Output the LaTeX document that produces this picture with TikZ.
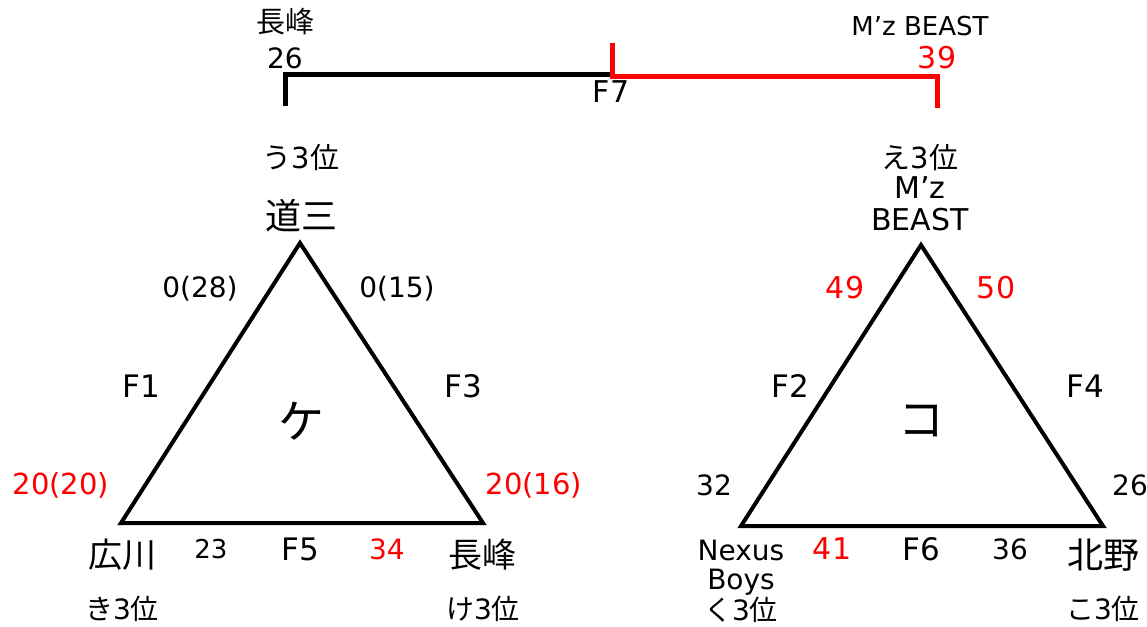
\documentclass[tikz,border=0pt]{standalone}
\usepackage{fontspec}
\setmainfont{DejaVu Sans}
\newfontfamily\jp{Noto Sans CJK JP}
\definecolor{myred}{RGB}{255,0,0}
\begin{document}
\begin{tikzpicture}[x=1pt,y=-1pt,
  fs/.style={inner sep=0pt,font=\fontsize{#1}{#1}\selectfont},
  rd/.style={text=myred},
  tri/.style={line width=4pt,line join=miter},
  brk/.style={line width=5pt}]
\useasboundingbox (0,0) rectangle (1147,626);
% bracket
\coordinate (b1) at (285,106);
\coordinate (b2) at (285,74);
\coordinate (b3) at (612,74);
\coordinate (r1) at (612,43);
\coordinate (r2) at (612,76);
\coordinate (r3) at (937,76);
\coordinate (r4) at (937,108);
\draw[brk] (b1) -- (b2) -- (b3);
\draw[brk,myred] (r1) -- (r2) -- (r3) -- (r4);
\node[fs=29] (tn) at (285,22) {\jp 長峰};
\node[fs=28] (t26) at (285,58) {26};
\node[fs=30] (f7) at (611,92) {F7};
\node[fs=26] (tm) at (920,26) {M’z BEAST};
\node[fs=30,rd] (t39) at (937,58) {39};
% left triangle
\coordinate (la) at (300,243);
\coordinate (ll) at (121,523);
\coordinate (lr) at (483,523);
\draw[tri] (la) -- (ll) -- (lr) -- cycle;
\node[fs=29] (u3) at (301,157) {{\jp う}3{\jp 位}};
\node[fs=36] (dosan) at (301,216) {\jp 道三};
\node[fs=28] (l028) at (200,289) {0(28)};
\node[fs=28] (l015) at (397,289) {0(15)};
\node[fs=31] (f1) at (141,386) {F1};
\node[fs=31] (f3) at (463,386) {F3};
\node[fs=46] (ke) at (301,421) {\jp ケ};
\node[fs=29,rd] (l2020) at (61,485) {20(20)};
\node[fs=29,rd] (l2016) at (534,485) {20(16)};
\node[fs=34] (hiro) at (122,555) {\jp 広川};
\node[fs=26] (l23) at (211,549) {23};
\node[fs=31] (f5) at (300,549) {F5};
\node[fs=28,rd] (l34) at (387,549) {34};
\node[fs=34] (naga) at (482,555) {\jp 長峰};
\node[fs=28] (ki3) at (122,609) {{\jp き}3{\jp 位}};
\node[fs=28] (ke3) at (483,609) {{\jp け}3{\jp 位}};
% right triangle
\coordinate (ra) at (921,245);
\coordinate (rl) at (741,526);
\coordinate (rr) at (1103,526);
\draw[tri] (ra) -- (rl) -- (rr) -- cycle;
\node[fs=29] (e3) at (920,157) {{\jp え}3{\jp 位}};
\node[fs=30] (mz) at (920,188) {M’z};
\node[fs=30] (beast) at (920,220) {BEAST};
\node[fs=30,rd] (r49) at (845,288) {49};
\node[fs=30,rd] (r50) at (996,288) {50};
\node[fs=31] (f2) at (790,386) {F2};
\node[fs=31] (f4) at (1085,386) {F4};
\node[fs=46] (ko) at (921,421) {\jp コ};
\node[fs=28] (r32) at (714,485) {32};
\node[fs=28] (r26) at (1130,485) {26};
\node[fs=28] (nexus) at (741,550) {Nexus};
\node[fs=28] (boys) at (741,582) {Boys};
\node[fs=28] (ku3) at (741,610) {{\jp く}3{\jp 位}};
\node[fs=30,rd] (r41) at (832,549) {41};
\node[fs=31] (f6) at (921,549) {F6};
\node[fs=28] (r36) at (1010,549) {36};
\node[fs=36] (kita) at (1103,555) {\jp 北野};
\node[fs=28] (ko3) at (1103,609) {{\jp こ}3{\jp 位}};
\end{tikzpicture}
\end{document}
